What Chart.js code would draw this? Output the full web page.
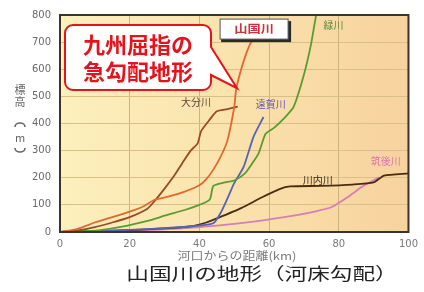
<!DOCTYPE html>
<html><head><meta charset="utf-8">
<script src="https://cdn.jsdelivr.net/npm/chart.js@4.4.1/dist/chart.umd.min.js"></script>
<style>html,body{margin:0;padding:0;background:#fff}#w{width:424px;height:292px;position:relative}</style>
</head><body><div id="w"><canvas id="c"></canvas></div>
<script>
// ---- data (km from river mouth, elevation m) ----
const xTicks = [0, 20, 40, 60, 80, 100];
const yTicks = [0, 100, 200, 300, 400, 500, 600, 700, 800];
const riverNames = ['山国川', '大分川', '緑川', '遠賀川', '川内川', '筑後川'];
const yamakuniKm = [0, 5, 10, 15, 20, 24, 27, 31, 36, 40, 42, 44, 46, 48, 50, 50.6, 52.7, 54.5, 56, 58];
const yamakuniM  = [0, 12, 35, 55, 75, 95, 118, 130, 150, 172, 195, 230, 275, 335, 460, 530, 630, 692, 720, 770];
const oitaKm = [0, 5, 10, 15, 20, 25, 27, 30, 33, 35, 37.5, 39.5, 40.5, 43, 45, 48, 51];
const oitaM  = [0, 6, 18, 35, 55, 85, 112, 160, 212, 252, 300, 327, 372, 415, 445, 453, 462];
const midoriKm = [0, 10, 17, 26, 30, 36, 40, 43, 44, 47, 50, 53, 55, 57, 59, 61.5, 64.5, 67, 70, 72, 73.5];
const midoriM  = [0, 5, 18, 44, 60, 82, 100, 120, 170, 182, 190, 215, 250, 290, 362, 385, 422, 460, 580, 690, 800];
const ongaKm = [0, 10, 20, 30, 40, 44, 46, 48, 50, 52.7, 55.5, 58.4];
const ongaM  = [0, 3, 8, 14, 24, 32, 68, 122, 180, 240, 350, 424];
const sendaiKm = [0, 10, 20, 30, 38, 42, 45, 52, 58, 63, 66, 75, 84, 90, 93, 100];
const sendaiM  = [0, 3, 7, 13, 22, 35, 50, 88, 128, 158, 168, 170, 175, 183, 208, 216];
const chikugoKm = [0, 10, 20, 30, 40, 50, 58.8, 68, 74, 78, 82.5, 87.3, 91.6];
const chikugoM  = [0, 2, 5, 10, 18, 30, 44, 62, 78, 92, 128, 172, 202];
// label anchor positions (km, m)
const labelKm = [55.7, 39, 78.5, 60.5, 74, 93.5];
const labelM  = [748, 478, 762, 470, 190, 262];
const calloutTip = [50.8, 530];
const calloutLines = ['九州屈指の', '急勾配地形'];
const chartTitle = '山国川の地形（河床勾配）';
const xTitle = '河口からの距離(km)';
const yTitleChars = ['標', '高', 'm'];

const colors = ['#e2682e', '#9a4a22', '#5c9a32', '#5563b4', '#4a2c12', '#d67fb6'];
const labelColors = ['#c8343a', '#5a4a3a', '#5a8c3a', '#6256a8', '#3a2a1a', '#d874b4'];
const series = [[yamakuniKm, yamakuniM], [oitaKm, oitaM], [midoriKm, midoriM], [ongaKm, ongaM], [sendaiKm, sendaiM], [chikugoKm, chikugoM]];
const pts = (k, m) => k.map((v, i) => ({x: v, y: m[i]}));

const JP = '"Noto Sans CJK JP", "Noto Sans", sans-serif';

function stretchedText(ctx, text, cx, cy, sx) {
  ctx.save();
  ctx.translate(cx, cy);
  ctx.scale(sx, 1);
  ctx.fillText(text, 0, 0);
  ctx.restore();
}

const bgPlugin = {
  id: 'bg',
  beforeDraw(ch) {
    const {ctx, chartArea: a} = ch;
    const g = ctx.createLinearGradient(a.left, 0, a.right, 0);
    g.addColorStop(0, '#fcf0bd');
    g.addColorStop(0.5, '#fae2ac');
    g.addColorStop(1, '#f7d29e');
    ctx.save(); ctx.fillStyle = g; ctx.fillRect(a.left, a.top, a.right - a.left, a.bottom - a.top); ctx.restore();
  },
  afterDraw(ch) {
    const {ctx, chartArea: a, scales} = ch;
    const xs = scales.x, ys = scales.y;
    ctx.save();
    // frame
    ctx.strokeStyle = '#3b342a'; ctx.lineWidth = 2;
    ctx.strokeRect(a.left, a.top, a.right - a.left, a.bottom - a.top);
    // river labels
    ctx.textAlign = 'center'; ctx.textBaseline = 'middle';
    for (let i = 1; i < riverNames.length; i++) {
      ctx.font = '10px ' + JP; ctx.fillStyle = labelColors[i];
      ctx.fillText(riverNames[i], xs.getPixelForValue(labelKm[i]), ys.getPixelForValue(labelM[i]));
    }
    // 山国川 box
    const bx = xs.getPixelForValue(labelKm[0]), by = ys.getPixelForValue(labelM[0]);
    ctx.fillStyle = '#2a2a2a'; ctx.fillRect(bx - 33, by - 8, 70, 21);
    ctx.fillStyle = '#ffffff'; ctx.fillRect(bx - 34, by - 10, 68, 20);
    ctx.strokeStyle = '#555'; ctx.lineWidth = 1; ctx.strokeRect(bx - 34, by - 10, 68, 20);
    ctx.font = 'bold 11px ' + JP; ctx.fillStyle = labelColors[0];
    stretchedText(ctx, riverNames[0], bx, by, 1.2);
    // callout
    const x0 = 65, y0 = 25, x1 = 211, y1 = 90, r = 8;
    const tx = xs.getPixelForValue(calloutTip[0]), ty = ys.getPixelForValue(calloutTip[1]);
    ctx.beginPath();
    ctx.moveTo(x0 + r, y0); ctx.lineTo(x1 - r, y0); ctx.arcTo(x1, y0, x1, y0 + r, r);
    ctx.lineTo(x1, 47); ctx.lineTo(tx, ty); ctx.lineTo(x1, 75);
    ctx.lineTo(x1, y1 - r); ctx.arcTo(x1, y1, x1 - r, y1, r);
    ctx.lineTo(x0 + r, y1); ctx.arcTo(x0, y1, x0, y1 - r, r);
    ctx.lineTo(x0, y0 + r); ctx.arcTo(x0, y0, x0 + r, y0, r);
    ctx.closePath();
    ctx.fillStyle = '#ffffff'; ctx.fill();
    ctx.strokeStyle = '#e5141c'; ctx.lineWidth = 2; ctx.lineJoin = 'miter'; ctx.stroke();
    ctx.fillStyle = '#e5141c'; ctx.font = 'bold 22px ' + JP;
    ctx.fillText(calloutLines[0], 138, 45);
    ctx.fillText(calloutLines[1], 138, 72);
    // y title (vertical)
    ctx.fillStyle = '#666'; ctx.font = '11px ' + JP;
    ctx.fillText(yTitleChars[0], 20, 90);
    ctx.fillText(yTitleChars[1], 20, 102);
    ctx.fillText(yTitleChars[2], 20, 138);
    ctx.strokeStyle = '#666'; ctx.lineWidth = 1.6;
    ctx.beginPath(); ctx.ellipse(20, 127, 5, 4, 0, Math.PI, 2 * Math.PI); ctx.stroke();
    ctx.beginPath(); ctx.ellipse(20, 148, 5, 4, 0, 0, Math.PI); ctx.stroke();
    // x title
    ctx.font = '11px ' + JP; ctx.fillStyle = '#7a7a7a';
    stretchedText(ctx, xTitle, 237, 256, 1.18);
    // chart title
    ctx.font = '17px ' + JP; ctx.fillStyle = '#222';
    stretchedText(ctx, chartTitle, 262, 274, 1.33);
    ctx.restore();
  }
};

new Chart(document.getElementById('c'), {
  type: 'line',
  data: {
    datasets: series.map((s, i) => ({
      label: riverNames[i], data: pts(s[0], s[1]), borderColor: colors[i],
      borderWidth: 1.8, pointRadius: 0, tension: 0.2, fill: false
    }))
  },
  options: {
    responsive: true, maintainAspectRatio: false, animation: false,
    layout: {padding: {top: 14, right: 10, left: 0, bottom: 0}},
    plugins: {legend: {display: false}, tooltip: {enabled: false}},
    scales: {
      x: {
        type: 'linear', min: 0, max: 100,
        afterBuildTicks: s => { s.ticks = xTicks.map(v => ({value: v})); },
        afterFit: s => { s.height = 60; },
        ticks: {color: '#7a7a7a', font: {family: 'DejaVu Sans', size: 10}, padding: 6, maxRotation: 0},
        grid: {color: c => (c.tick && (c.tick.value === 0 || c.tick.value === 100)) ? 'rgba(0,0,0,0)' : '#cdb47c', lineWidth: 1, drawTicks: false},
        border: {display: false}
      },
      y: {
        type: 'linear', min: 0, max: 800,
        afterBuildTicks: s => { s.ticks = yTicks.map(v => ({value: v})); },
        afterFit: s => { s.width = 60; },
        ticks: {color: '#6a6a6a', font: {family: 'DejaVu Sans', size: 10}, padding: 9},
        grid: {color: c => (c.tick && (c.tick.value === 0 || c.tick.value === 800)) ? 'rgba(0,0,0,0)' : '#d8c086', lineWidth: 1, drawTicks: false},
        border: {display: false}
      }
    }
  },
  plugins: [bgPlugin]
});
</script></body></html>
